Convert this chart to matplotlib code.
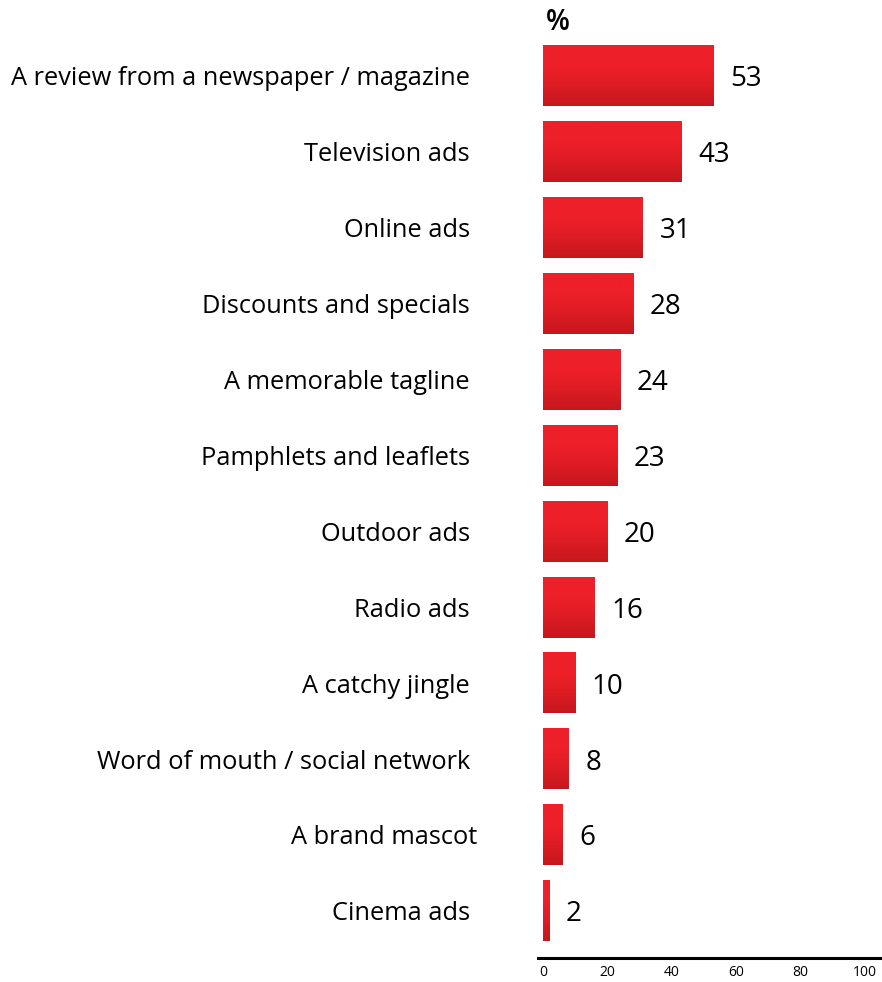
"""Horizontal bar chart: what makes people notice a product (% of respondents)."""

import matplotlib

matplotlib.use("Agg")
import matplotlib.pyplot as plt  # noqa: E402
import numpy as np  # noqa: E402
from matplotlib.colors import LinearSegmentedColormap  # noqa: E402
from matplotlib.transforms import ScaledTranslation  # noqa: E402

categories = [
    "A review from a newspaper / magazine",
    "Television ads",
    "Online ads",
    "Discounts and specials",
    "A memorable tagline",
    "Pamphlets and leaflets",
    "Outdoor ads",
    "Radio ads",
    "A catchy jingle",
    "Word of mouth / social network",
    "A brand mascot",
    "Cinema ads",
]
values = [53, 43, 31, 28, 24, 23, 20, 16, 10, 8, 6, 2]
xticks = [0, 20, 40, 60, 80, 100]

RED_TOP = "#ee2029"
RED_BOTTOM = "#c4171d"

plt.rcParams["font.family"] = ["Open Sans", "DejaVu Sans"]

fig = plt.figure(figsize=(8.82, 9.82), dpi=100)
ax = fig.add_axes([538 / 882, 1 - 958 / 982, 1 - 538 / 882, (958 - 30) / 982])

y = np.arange(len(categories))
bars = ax.barh(y, values, height=0.8, color="none", edgecolor="none")

# vertical red gradient inside every bar (light on top, darker at the base)
grad_cmap = LinearSegmentedColormap.from_list(
    "barred", [RED_TOP, RED_TOP, "#dd1c24", RED_BOTTOM])
grad = np.linspace(0, 1, 256).reshape(-1, 1)
for b in bars:
    x0, y0, w, h = b.get_x(), b.get_y(), b.get_width(), b.get_height()
    ax.imshow(grad, cmap=grad_cmap, aspect="auto", interpolation="bicubic",
              extent=(x0, x0 + w, y0 + h, y0), zorder=2)

for yi, v in zip(y, values):
    ax.annotate(str(v), (v, yi), xytext=(12, -2.5), textcoords="offset points",
                ha="left", va="center", fontsize=20, color="black")

ax.set_xlim(-1.55, 105.3)
ax.set_ylim(11.62, -0.6)

ax.set_yticks(y)
ax.set_yticklabels(categories, fontsize=18.3)
ax.tick_params(axis="y", length=0, pad=49)
# the mascot label sits a little further right than the rest
mascot = ax.get_yticklabels()[categories.index("A brand mascot")]
mascot.set_transform(mascot.get_transform()
                     + ScaledTranslation(0.07, 0, fig.dpi_scale_trans))

ax.set_xticks(xticks)
ax.set_xticklabels([str(t) for t in xticks], fontsize=10)
ax.tick_params(axis="x", length=0, pad=5)

for side in ("top", "right", "left"):
    ax.spines[side].set_visible(False)
ax.spines["bottom"].set_linewidth(2.2)
ax.spines["bottom"].set_color("black")

ax.text(1.0, -0.7, "%", ha="left", va="center", fontsize=20,
        fontweight="semibold", clip_on=False)

fig.savefig("out.png", dpi=100)
